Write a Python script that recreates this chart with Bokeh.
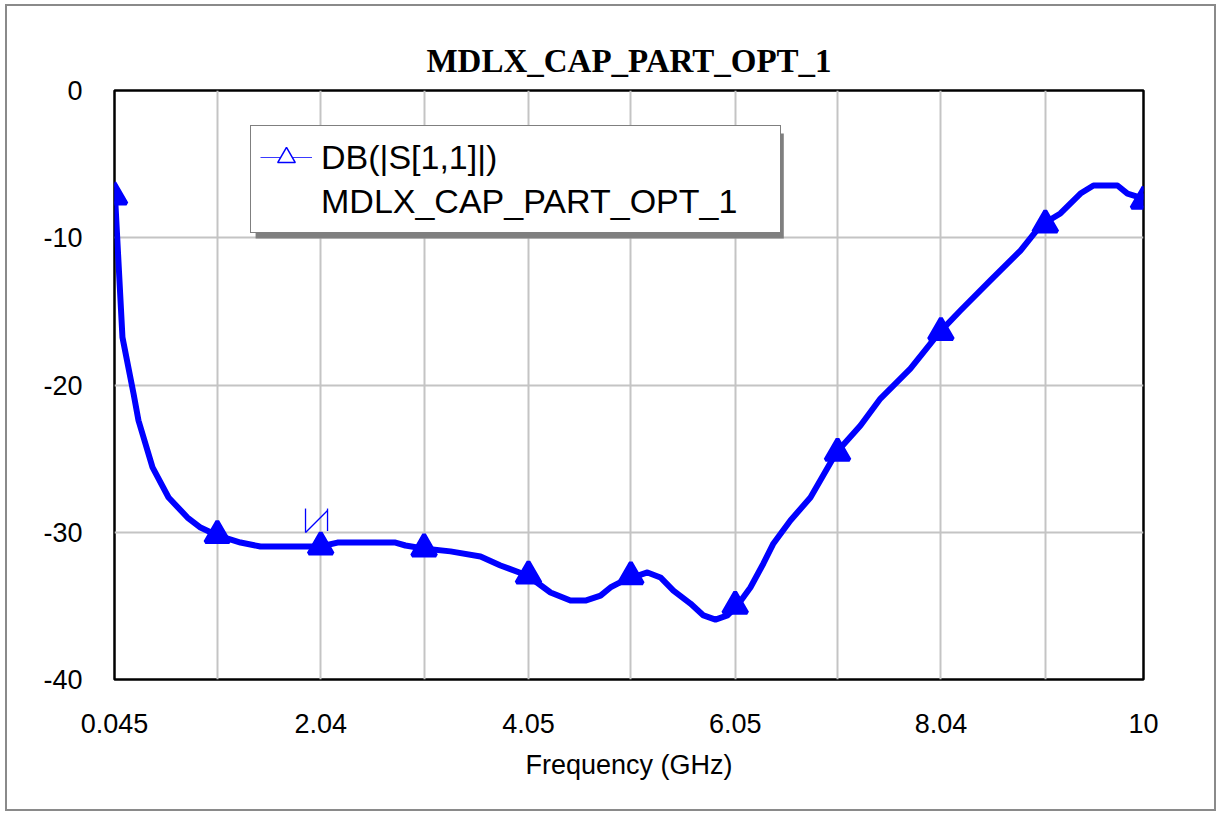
from bokeh.plotting import figure
from bokeh.models import FixedTicker, Legend, LegendItem, BoxAnnotation, ColumnDataSource, Range1d
from bokeh.embed import file_html
from bokeh.resources import INLINE

# ---- data ----
freq_ghz = [0.045, 0.122, 0.229, 0.277, 0.413, 0.568, 0.751, 0.877, 1.041, 1.264, 1.457,
            2.038, 2.202, 2.763, 2.860, 3.034, 3.295, 3.586, 3.779, 4.040, 4.263, 4.456,
            4.601, 4.747, 4.843, 4.969, 5.201, 5.327, 5.452, 5.617, 5.743, 5.859, 5.975,
            6.071, 6.197, 6.323, 6.420, 6.584, 6.778, 7.029, 7.262, 7.455, 7.745, 8.026,
            8.229, 8.519, 8.810, 9.003, 9.196, 9.390, 9.516, 9.748, 9.845, 9.970, 10.0]
s11_db = [-6.5, -16.77, -20.58, -22.41, -25.6, -27.64, -29.0, -29.68, -30.22, -30.7, -30.97,
          -30.97, -30.7, -30.7, -30.9, -31.1, -31.3, -31.65, -32.26, -32.94, -34.09, -34.64,
          -34.64, -34.3, -33.75, -33.28, -32.73, -33.07, -33.96, -34.84, -35.65, -35.93, -35.65,
          -34.97, -33.75, -32.12, -30.76, -29.2, -27.64, -24.58, -22.75, -20.92, -18.88, -16.43,
          -14.94, -12.9, -10.87, -9.17, -8.35, -7.0, -6.45, -6.45, -7.0, -7.27, -7.2]

marker_freq = [0.045, 1.04, 2.04, 3.04, 4.05, 5.04, 6.05, 7.04, 8.04, 9.05, 10.0]
marker_db = [-7.2, -30.2, -30.97, -31.1, -32.95, -33.0, -35.0, -24.6, -16.4, -9.1, -7.5]

x_grid_ticks = [0.045, 1.04, 2.04, 3.04, 4.05, 5.04, 6.05, 7.04, 8.04, 9.05, 10.0]
x_label_ticks = [0.045, 2.04, 4.05, 6.05, 8.04, 10.0]
x_tick_labels = ["0.045", "2.04", "4.05", "6.05", "8.04", "10"]
y_ticks = [-40, -30, -20, -10, 0]
y_tick_labels = ["-40", "-30", "-20", "-10", "0"]

title_text = "MDLX_CAP_PART_OPT_1"
legend_line1 = "DB(|S[1,1]|)"
legend_line2 = "MDLX_CAP_PART_OPT_1"
x_label = "Frequency (GHz)"

BLUE = "#0000ff"
SANS = "Liberation Sans"

p = figure(width=1211, height=807,
           x_range=Range1d(0.045, 10.0), y_range=Range1d(-40, 0),
           output_backend="svg", toolbar_location=None,
           min_border_left=107, min_border_right=75,
           min_border_top=84, min_border_bottom=134)
p.styles = {"border": "2px solid #8a8a8a", "margin-left": "5px", "margin-top": "4px"}

p.background_fill_color = "white"
p.border_fill_color = "white"
p.outline_line_color = "black"
p.outline_line_width = 2.5

# title
p.title.text = title_text
p.title.align = "center"
p.title.text_font = "Liberation Serif"
p.title.text_font_style = "bold"
p.title.text_font_size = "33px"
p.title.text_color = "black"
p.title.standoff = 24

# grids
p.xgrid.ticker = FixedTicker(ticks=x_grid_ticks)
p.ygrid.ticker = FixedTicker(ticks=y_ticks)
for g in (p.xgrid, p.ygrid):
    g.grid_line_color = "#c4c4c4"
    g.grid_line_width = 2

# axes
p.xaxis.ticker = FixedTicker(ticks=x_label_ticks)
p.xaxis.major_label_overrides = {t: s for t, s in zip(x_label_ticks, x_tick_labels)}
p.yaxis.ticker = FixedTicker(ticks=y_ticks)
p.yaxis.major_label_overrides = {t: s for t, s in zip(y_ticks, y_tick_labels)}
for ax in (p.xaxis, p.yaxis):
    ax.axis_line_color = None
    ax.major_tick_line_color = None
    ax.minor_tick_line_color = None
    ax.major_tick_out = 0
    ax.major_tick_in = 0
    ax.major_label_text_font = SANS
    ax.major_label_text_font_size = "27px"
    ax.major_label_text_color = "black"
p.xaxis.major_label_standoff = 34
p.yaxis.major_label_standoff = 32
p.xaxis.axis_label = x_label
p.xaxis.axis_label_text_font = SANS
p.xaxis.axis_label_text_font_size = "27px"
p.xaxis.axis_label_text_font_style = "normal"
p.xaxis.axis_label_text_color = "black"
p.xaxis.axis_label_standoff = 14

# curve
src = ColumnDataSource(data=dict(f=freq_ghz, db=s11_db))
p.line("f", "db", source=src, line_color=BLUE, line_width=6,
       line_join="round", line_cap="round")

msrc = ColumnDataSource(data=dict(f=marker_freq, db=marker_db))
p.scatter("f", "db", source=msrc, marker="triangle", size=24,
          fill_color=BLUE, line_color=BLUE, line_width=4)

# marker-readout symbol near 2.04 GHz
mf, md = marker_freq[2], marker_db[2]
p.segment(x0=[mf - 0.147, mf - 0.147, mf + 0.066],
          y0=[md + 0.95, md + 0.95, md + 2.58],
          x1=[mf - 0.147, mf + 0.066, mf + 0.066],
          y1=[md + 2.58, md + 2.45, md + 1.05],
          line_color=BLUE, line_width=1.3)

# legend shadow
shadow = BoxAnnotation(left=1.41, right=6.52, top=-2.92, bottom=-10.05,
                       fill_color="#7f7f7f", fill_alpha=1.0, line_color=None)
p.add_layout(shadow)

# legend proxies (single point far outside the visible ranges)
off = dict(x=[-100.0], y=[-1000.0])
leg_line = p.line("x", "y", source=ColumnDataSource(data=dict(off)),
                  line_color="#3a3aff", line_width=1.2)
leg_tri = p.scatter("x", "y", source=ColumnDataSource(data=dict(off)),
                    marker="triangle", size=15, fill_color="white",
                    line_color=BLUE, line_width=1.5)
leg_blank = p.line("x", "y", source=ColumnDataSource(data=dict(off)),
                   line_alpha=0)

legend = Legend(items=[LegendItem(label=legend_line1, renderers=[leg_line, leg_tri]),
                       LegendItem(label=legend_line2, renderers=[leg_blank])],
                location=(136, 446), orientation="vertical",
                padding=9, spacing=0, margin=0,
                label_height=44, glyph_height=44, glyph_width=52,
                label_standoff=9, label_width=450,
                label_text_font=SANS, label_text_font_size="34px",
                label_text_color="black",
                border_line_color="black", border_line_width=1.2,
                background_fill_color="white", background_fill_alpha=1.0)
p.add_layout(legend, "center")

open("out.html", "w").write(file_html(p, INLINE))
